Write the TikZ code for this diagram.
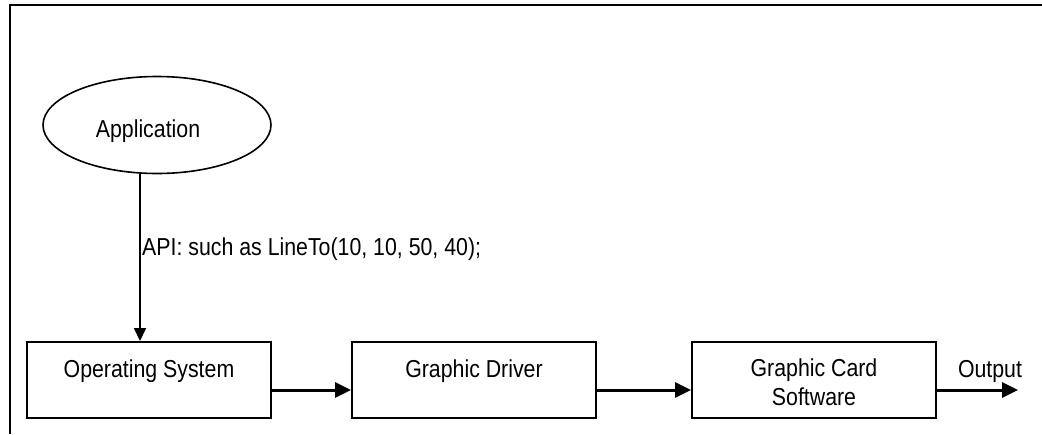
\documentclass[tikz,border=0pt]{standalone}
\usepackage{fontspec}
\setmainfont[FakeStretch=0.87]{Liberation Sans}
\usetikzlibrary{arrows.meta,shapes.geometric}

\begin{document}
\begin{tikzpicture}
[x=1pt,y=-1pt,
  nodeDecorate/.style={shape=rectangle,draw,line width=1.9pt,minimum width=244pt,minimum height=76pt,inner sep=0pt},
  ovalDecorate/.style={shape=ellipse,draw,line width=1.6pt,minimum width=228pt,minimum height=97pt,inner sep=0pt},
  textDecorate/.style={anchor=base,align=center,inner sep=0pt},
  lineDecorate/.style={-{Triangle[length=16pt,width=15pt]},line width=3pt},
  apiDecorate/.style={-{Triangle[length=13pt,width=12pt]},line width=1.6pt},
  frameDecorate/.style={line width=2.4pt}]
\fontsize{24.5}{29}\selectfont
\useasboundingbox (0,0) rectangle (1042,434);
%% frame
\draw[frameDecorate] (1042,5) -- (10,5) -- (10,434);
%% application
\node (app) at (157,125) [ovalDecorate] {};
\node (apptext) at (148,137) [textDecorate] {Application};
%% boxes
\foreach \nodename/\x/\y/\txt in {
  os/149/377/Operating System,
  drv/474/377/Graphic Driver,
  card/814/405/{Graphic Card\\Software}}
{
  \node (\nodename) at (\x,380) [nodeDecorate] {};
  \node (\nodename text) at (\x,\y) [textDecorate] {\txt};
}
%% API call
\draw[apiDecorate] ([xshift=-17pt]app.south) -- ([xshift=-9pt]os.north);
\node (api) at (142,255) [anchor=base west,inner sep=0pt] {API: such as LineTo(10, 10, 50, 40);};
%% edges
\path
\foreach \startnode/\endnode in {os/drv, drv/card}
{
  ([yshift=-10pt]\startnode.east) edge[lineDecorate] ([yshift=-10pt]\endnode.west)
};
\coordinate (out) at (1018,390);
\draw[lineDecorate] ([yshift=-10pt]card.east) -- (out);
\node (outtext) at (990,377) [textDecorate] {Output};
\end{tikzpicture}
\end{document}
